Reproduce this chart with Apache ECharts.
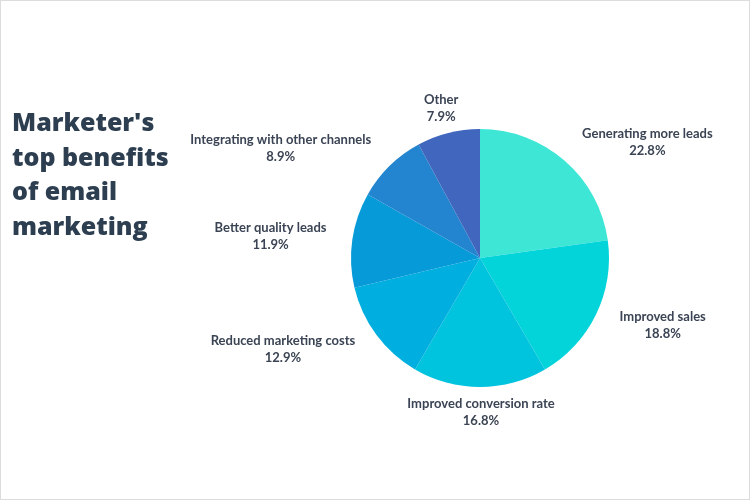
<!DOCTYPE html>
<html>
<head>
<meta charset="utf-8">
<script src="https://cdn.jsdelivr.net/npm/echarts@6/dist/echarts.min.js"></script>
<style>
  html, body { margin: 0; padding: 0; background: #fff; }
  #main { width: 748px; height: 498px; border: 1px solid #dcdcdc; }
</style>
</head>
<body>
<div id="main"></div>
<script>
// benefits, clockwise from 12 o'clock
var names = [
  'Generating more leads',
  'Improved sales',
  'Improved conversion rate',
  'Reduced marketing costs',
  'Better quality leads',
  'Integrating with other channels',
  'Other'
];
var shares = [22.8, 18.8, 16.8, 12.9, 11.9, 8.9, 7.9];
var colors = ['#3ee6d6', '#02d4d9', '#00c3dd', '#00afdf', '#079ad8', '#2385d0', '#4067bd'];

var total = shares.reduce(function (a, b) { return a + b; }, 0);

var chart = echarts.init(document.getElementById('main'));

chart.setOption({
  backgroundColor: '#fff',
  title: {
    text: "Marketer's\ntop benefits\nof email\nmarketing",
    left: 6,
    top: 101,
    textStyle: {
      color: '#2c3e50',
      fontFamily: 'Open Sans',
      fontWeight: 800,
      fontSize: 25,
      lineHeight: 34.5
    }
  },
  series: [{
    type: 'pie',
    center: [479, 257],
    radius: 129,
    startAngle: 90,
    clockwise: true,
    avoidLabelOverlap: false,
    silent: true,
    data: names.map(function (n, i) {
      return { name: n, value: shares[i], itemStyle: { color: colors[i] } };
    }),
    label: {
      show: true,
      position: 'outside',
      distanceToLabelLine: 1,
      formatter: '{n|{b}}\n{p|{c}%}',
      rich: {
        n: { fontFamily: 'Lato', fontWeight: 'bold', fontSize: 13, color: '#3b4454', align: 'center', lineHeight: 17 },
        p: { fontFamily: 'Lato', fontWeight: 'bold', fontSize: 13, color: '#3b4454', align: 'center', lineHeight: 17 }
      }
    },
    labelLine: { show: false, length: 25, length2: 0 },
    labelLayout: function (params) {
      // labels close to vertical are centred on their anchor
      var before = 0;
      for (var i = 0; i < params.dataIndex; i++) before += shares[i];
      var mid = (before + shares[params.dataIndex] / 2) / total * 360;
      var off = Math.abs(Math.sin(mid * Math.PI / 180));
      if (off < 0.3) return { align: 'center' };
    }
  }]
});
</script>
</body>
</html>
